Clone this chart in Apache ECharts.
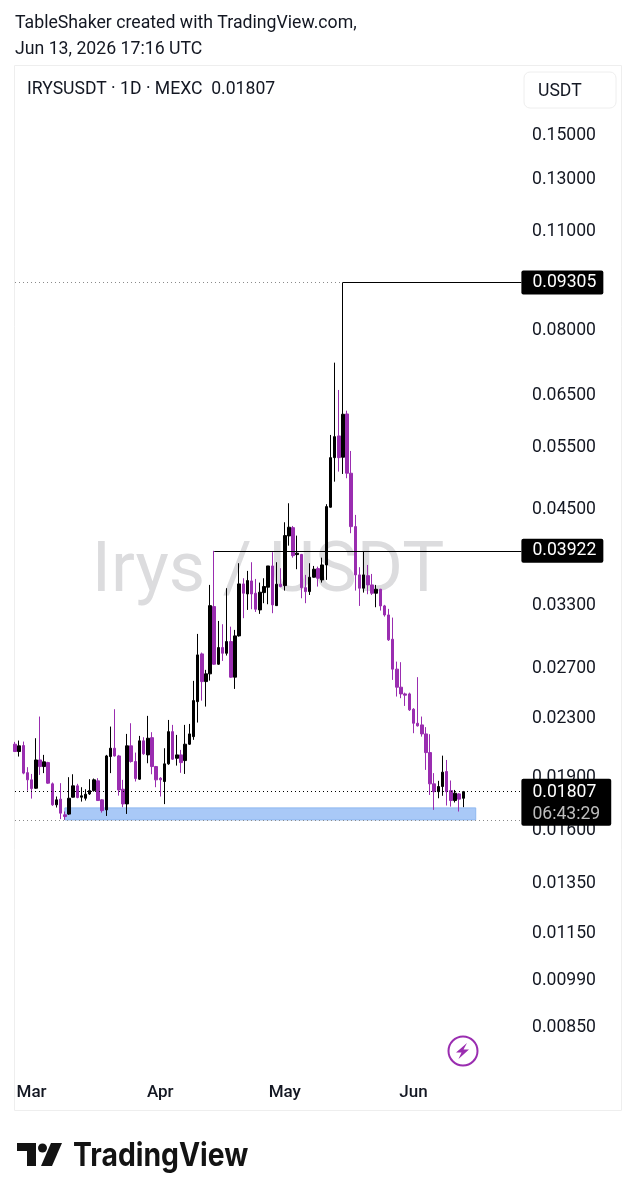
<!DOCTYPE html><html><head><meta charset="utf-8"><style>html,body{margin:0;background:#fff}#c{width:636px;height:1200px}</style>
<script src="https://cdn.jsdelivr.net/npm/echarts@6/dist/echarts.min.js"></script></head><body><div id="c"></div><script>
const opens=[0.02105,0.02056,0.02096,0.01921,0.01877,0.01827,0.02001,0.01959,0.01984,0.01853,
0.01732,0.01764,0.01677,0.01681,0.01775,0.01841,0.01775,0.01769,0.01794,0.01813,
0.01871,0.01760,0.01704,0.02023,0.02078,0.02027,0.01821,0.01737,0.02094,0.01991,
0.01881,0.02128,0.02034,0.02150,0.01959,0.01887,0.01867,0.01976,0.02192,0.02012,
0.02034,0.01997,0.02105,0.02157,0.02414,0.02815,0.02575,0.02640,0.03278,0.02723,
0.02873,0.02821,0.02929,0.02612,0.02983,0.03526,0.03414,0.03560,0.03422,0.03243,
0.03429,0.03489,0.03736,0.03288,0.03523,0.03507,0.04115,0.04226,0.03875,0.03877,
0.03484,0.03440,0.03603,0.03704,0.03572,0.03748,0.04513,0.05294,0.05677,0.05301,
0.06093,0.05035,0.04240,0.03630,0.03478,0.03621,0.03515,0.03422,0.03466,0.03285,
0.03191,0.02951,0.02680,0.02529,0.02475,0.02475,0.02356,0.02252,0.02240,0.02176,
0.02049,0.01853,0.01807,0.01837,0.01928,0.01813,0.01756,0.01794,0.01769];
const closes=[0.02056,0.02094,0.01918,0.01877,0.01825,0.02001,0.01959,0.01989,0.01857,0.01732,
0.01760,0.01686,0.01668,0.01769,0.01841,0.01773,0.01783,0.01792,0.01813,0.01877,
0.01756,0.01700,0.02027,0.02078,0.02027,0.01817,0.01737,0.02094,0.01991,0.01885,
0.02128,0.02041,0.02146,0.01959,0.01877,0.01877,0.01976,0.02192,0.02006,0.02034,
0.01984,0.02105,0.02176,0.02422,0.02806,0.02575,0.02640,0.03288,0.02723,0.02873,
0.02821,0.02929,0.02612,0.02983,0.03526,0.03422,0.03564,0.03414,0.03250,0.03433,
0.03496,0.03736,0.03296,0.03523,0.03496,0.04119,0.04232,0.03862,0.03892,0.03484,
0.03440,0.03603,0.03697,0.03591,0.03748,0.04522,0.05294,0.05664,0.05294,0.06087,
0.05035,0.04240,0.03630,0.03478,0.03630,0.03515,0.03422,0.03466,0.03285,0.03191,
0.02945,0.02680,0.02529,0.02475,0.02465,0.02351,0.02252,0.02233,0.02176,0.02049,
0.01853,0.01807,0.01837,0.01924,0.01807,0.01756,0.01798,0.01764,0.01807];
const lows=[0.02054,0.02023,0.01911,0.01813,0.01767,0.01823,0.01907,0.01918,0.01853,0.01726,
0.01717,0.01654,0.01650,0.01677,0.01773,0.01769,0.01750,0.01756,0.01788,0.01807,
0.01754,0.01689,0.01671,0.01918,0.02023,0.01784,0.01719,0.01682,0.01984,0.01867,
0.01877,0.02034,0.01980,0.01911,0.01833,0.01779,0.01736,0.01970,0.02001,0.01965,
0.01920,0.01913,0.02100,0.02135,0.02257,0.02422,0.02376,0.02583,0.02717,0.02717,
0.02752,0.02800,0.02608,0.02515,0.02976,0.03158,0.03243,0.03250,0.03222,0.03202,
0.03314,0.03303,0.03209,0.03285,0.03489,0.03451,0.03988,0.03837,0.03697,0.03367,
0.03314,0.03403,0.03598,0.03496,0.03541,0.03572,0.04507,0.04900,0.05061,0.05023,
0.04954,0.04151,0.03451,0.03285,0.03429,0.03411,0.03403,0.03271,0.03236,0.03174,
0.02935,0.02589,0.02454,0.02441,0.02381,0.02343,0.02181,0.02228,0.02157,0.01938,
0.01788,0.01704,0.01769,0.01783,0.01728,0.01722,0.01745,0.01695,0.01719];
const highs=[0.02121,0.02130,0.02123,0.01955,0.01913,0.02146,0.02301,0.02034,0.01989,0.01861,
0.01779,0.01857,0.01695,0.01893,0.01911,0.01853,0.01833,0.01821,0.01881,0.01885,
0.01887,0.01764,0.02034,0.02228,0.02356,0.02034,0.01877,0.02176,0.02252,0.02049,
0.02162,0.02153,0.02306,0.02188,0.01963,0.01893,0.02078,0.02276,0.02240,0.02169,
0.02067,0.02240,0.02247,0.02581,0.03002,0.02827,0.02674,0.03515,0.03922,0.03130,
0.03097,0.03478,0.03073,0.03041,0.03769,0.03591,0.03677,0.03781,0.03583,0.03541,
0.03591,0.03736,0.03905,0.03781,0.03709,0.04300,0.04571,0.04249,0.04119,0.03883,
0.03630,0.03769,0.03736,0.03728,0.03837,0.04557,0.05695,0.07187,0.06582,0.09305,
0.06158,0.05409,0.04403,0.03721,0.03912,0.03748,0.03641,0.03515,0.03470,0.03296,
0.03254,0.03164,0.02746,0.02741,0.02485,0.02485,0.02364,0.02612,0.02301,0.02224,
0.02174,0.01918,0.01871,0.02029,0.02001,0.01873,0.01817,0.01798,0.01811];
const priceTicks=[0.15,0.13,0.11,0.08,0.065,0.055,0.045,0.033,0.027,0.023,0.019,0.016,0.0135,0.0115,0.0099,0.0085];
const monthNames=['Jan','Feb','Mar','Apr','May','Jun','Jul','Aug'];
const startDate=Date.UTC(2026,1,25), axisDays=147;
const categories=Array.from({length:axisDays},(_,i)=>new Date(startDate+i*864e5).toISOString().slice(0,10));
const candles=opens.map((o,i)=>[o,closes[i],lows[i],highs[i]]);
const highA=0.09305, highB=0.03922, lastPrice=0.01807, countdown='06:43:29', zoneTop=0.01715, zoneBottom=0.0165;
const idx={highA:79,highB:48,zoneFrom:12,zoneTo:111,labelEnd:122};
const PURPLE='#9a2db0', FONT='Roboto';
const boxLabel=(f)=>({show:true,position:'end',distance:0,formatter:f,color:'#fff',fontFamily:FONT,fontSize:17.6,backgroundColor:'#000',padding:[5,7,1,11],borderRadius:2});
const plain={lineStyle:{color:'#000',width:1,type:'solid'},label:{show:false}};
const chart=echarts.init(document.getElementById('c'),null,{renderer:'canvas'});
chart.setOption({animation:false,backgroundColor:'#fff',
 grid:{left:15,top:66,width:606,height:1009,show:false},
 xAxis:{type:'category',data:categories,boundaryGap:false,axisLine:{show:false},axisTick:{show:false},splitLine:{show:false},
  axisLabel:{interval:(i,v)=>i<candles.length&&v.endsWith('-01'),formatter:v=>monthNames[+v.slice(5,7)-1],color:'#131722',fontFamily:FONT,fontWeight:500,fontSize:17,margin:9,hideOverlap:false}},
 yAxis:{type:'log',min:0.00726,max:0.1867,position:'right',axisLine:{show:false},axisTick:{show:false},splitLine:{show:false},minorTick:{show:false},
  axisLabel:{inside:true,margin:25,customValues:priceTicks,formatter:v=>'{t|'+(+v).toFixed(5)+'}',align:'right',
   rich:{t:{color:'#131722',fontFamily:FONT,fontSize:17.6,padding:[3,0,0,0]}}}},
 graphic:[
  {type:'rect',z:-2,silent:true,shape:{x:14.5,y:65.5,width:607,height:1045},style:{fill:'#fff',stroke:'#eeeeee',lineWidth:1}},
  {type:'text',z:-1,silent:true,style:{x:268,y:573,text:'Irys / USDT',fill:'#dcdcde',font:'70.5px Roboto',textAlign:'center',textVerticalAlign:'middle'}},
  {type:'text',style:{x:15,y:24,text:'TableShaker created with TradingView.com,',fill:'#131722',font:'17.7px Roboto',textVerticalAlign:'middle'}},
  {type:'text',style:{x:15,y:50,text:'Jun 13, 2026 17:16 UTC',fill:'#131722',font:'17.7px Roboto',textVerticalAlign:'middle'}},
  {type:'text',style:{x:27,y:90,text:'IRYSUSDT · 1D · MEXC  0.01807',fill:'#131722',font:'17.6px Roboto',textVerticalAlign:'middle'}},
  {type:'rect',shape:{x:524,y:72,width:92,height:36,r:6},style:{fill:'#fff',stroke:'#eeeeee',lineWidth:1}},
  {type:'text',style:{x:538,y:92,text:'USDT',fill:'#131722',font:'17.6px Roboto',textVerticalAlign:'middle'}},
  {type:'circle',shape:{cx:463,cy:1051,r:14.5},style:{fill:'#fff',stroke:PURPLE,lineWidth:2}},
  {type:'polygon',shape:{points:[[467,1043],[456,1052.5],[461.5,1052.5],[458.5,1059],[469,1049.5],[463.5,1049.5]]},style:{fill:PURPLE}},
  {type:'polygon',shape:{points:[[17,1143],[36,1143],[36,1166],[27,1166],[27,1151],[17,1151]]},style:{fill:'#131313'}},
  {type:'circle',shape:{cx:42.5,cy:1148,r:4.5},style:{fill:'#131313'}},
  {type:'polygon',shape:{points:[[51,1143],[62,1143],[52,1166],[41,1166]]},style:{fill:'#131313'}},
  {type:'text',x:73,y:1172,scaleX:0.885,style:{x:0,y:0,text:'TradingView',fill:'#131313',font:'700 32px Inter',textVerticalAlign:'bottom'}}
 ],
 series:[{type:'candlestick',data:candles,barWidth:3,clip:true,z:3,
  itemStyle:{color:'#000',color0:PURPLE,borderColor:'#000',borderColor0:PURPLE,borderWidth:1},
  markArea:{silent:true,z:1,itemStyle:{color:'#a9c9f7',borderColor:'#8fb8f0',borderWidth:1},
   data:[[{coord:[categories[idx.zoneFrom],zoneTop]},{coord:[categories[idx.zoneTo],zoneBottom]}]]},
  markLine:{silent:true,symbol:'none',animation:false,z:6,precision:5,data:[
   [{coord:[categories[0],highA],lineStyle:{color:'#8a8a8a',width:1,type:[1,3]},label:{show:false}},{coord:[categories[idx.highA],highA]}],
   [{coord:[categories[idx.highA],highA],...plain,label:boxLabel(String(highA.toFixed(5)))},{coord:[categories[idx.labelEnd],highA]}],
   [{coord:[categories[idx.highB],highB],...plain,label:boxLabel(String(highB.toFixed(5)))},{coord:[categories[idx.labelEnd],highB]}],
   [{coord:[categories[0],zoneBottom],lineStyle:{color:'#8a8a8a',width:1,type:[1,3]},label:{show:false}},{coord:[categories[idx.labelEnd],zoneBottom]}],
   [{coord:[categories[0],lastPrice],lineStyle:{color:'#000',width:1,type:[1,3]},
     label:{show:true,position:'end',distance:0,offset:[0,10.5],formatter:'{a|'+lastPrice.toFixed(5)+'}\n{b|'+countdown+'}',backgroundColor:'#000',padding:[3,11,0,11],borderRadius:2,
      rich:{a:{color:'#fff',fontFamily:FONT,fontSize:17.6,lineHeight:22},b:{color:'#bdbdbd',fontFamily:FONT,fontSize:17.6,lineHeight:22}}}},
    {coord:[categories[idx.labelEnd],lastPrice]}]
  ]}}]
});
</script></body></html>
